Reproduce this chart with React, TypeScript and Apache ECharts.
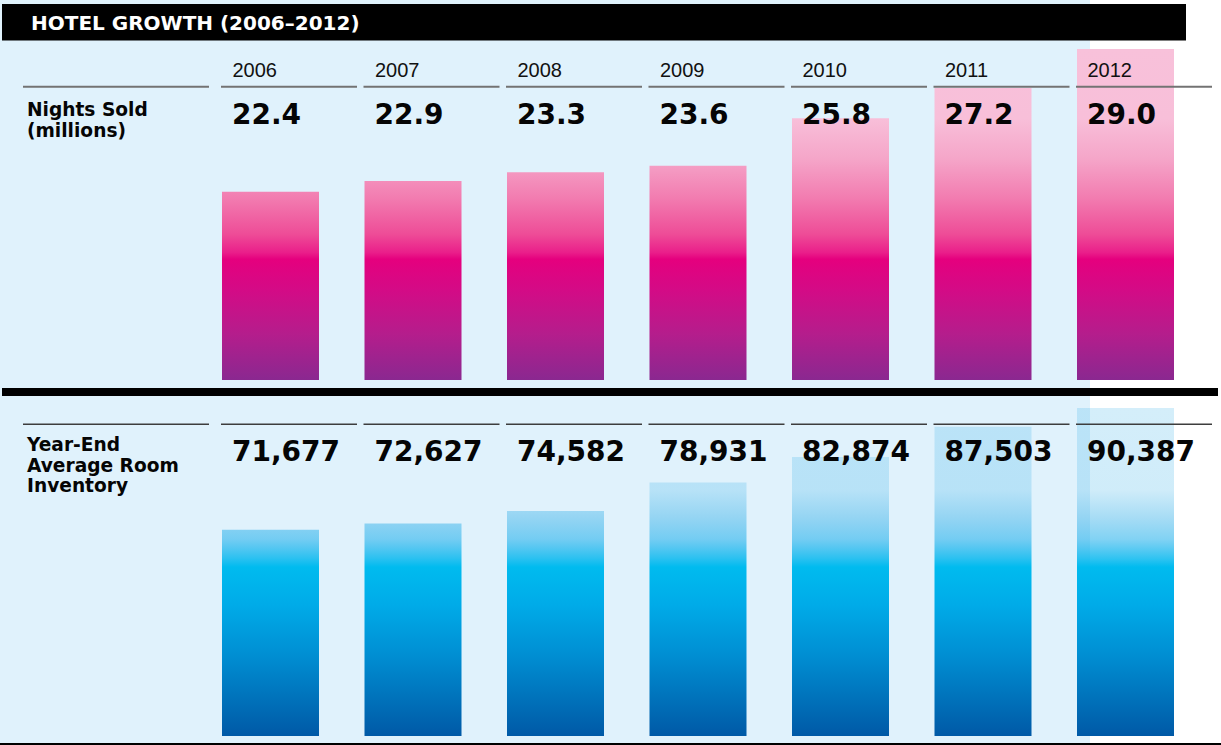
import React, { useEffect, useRef } from 'react';
import * as echarts from 'echarts';

// ---- data ----
const chartTitle = 'HOTEL GROWTH (2006–2012)';
const years = ['2006', '2007', '2008', '2009', '2010', '2011', '2012'];
const nightsSold = [22.4, 22.9, 23.3, 23.6, 25.8, 27.2, 29.0];
const nightsSoldLabels = ['22.4', '22.9', '23.3', '23.6', '25.8', '27.2', '29.0'];
const roomInventory = [71677, 72627, 74582, 78931, 82874, 87503, 90387];
const roomInventoryLabels = ['71,677', '72,627', '74,582', '78,931', '82,874', '87,503', '90,387'];
const nightsRowLabel = ['Nights Sold', '(millions)'];
const inventoryRowLabel = ['Year-End', 'Average Room', 'Inventory'];

// ---- layout ----
const W = 1221;
const H = 745;
const GRID_LEFT = 199.25;
const GRID_WIDTH = 997.5;
const BAR_W = 97;
const NIGHTS_MIN = 13.7;
const NIGHTS_MAX = 30;
const INV_MIN = 40000;
const INV_MAX = 92000;
const BOLD = '"DejaVu Sans", "Liberation Sans", sans-serif';
const REG = '"Liberation Sans", Arial, sans-serif';

const pinkStops = [
  [0, '#f8c1da'],
  [0.21, '#f8bfd9'],
  [0.33, '#f5a6c9'],
  [0.45, '#f27cb0'],
  [0.56, '#ee4c97'],
  [0.615, '#ea1e8a'],
  [0.635, '#e5007e'],
  [0.73, '#d30b86'],
  [0.86, '#b51d8c'],
  [1, '#8a2890'],
];
const blueStops = [
  [0, 'rgba(40,170,230,0.2)'],
  [0.25, 'rgba(40,170,230,0.22)'],
  [0.33, 'rgba(40,170,230,0.4)'],
  [0.4, 'rgba(30,175,235,0.56)'],
  [0.46, 'rgba(0,182,238,0.82)'],
  [0.485, '#00bbef'],
  [0.6, '#00abe8'],
  [0.75, '#008fd3'],
  [0.9, '#006fb8'],
  [1, '#0059a6'],
];

function grad(y0: number, y1: number, stops: any[]) {
  return {
    type: 'linear',
    x: 0,
    y: y0,
    x2: 0,
    y2: y1,
    global: true,
    colorStops: stops.map(([offset, color]) => ({ offset, color })),
  };
}

export default function App() {
  const ref = useRef<HTMLDivElement>(null);

  useEffect(() => {
    if (!ref.current) return;
    const chart = echarts.init(ref.current, null, { renderer: 'svg', width: W, height: H });
    const base: any = {
      animation: false,
      grid: [
        { left: GRID_LEFT, width: GRID_WIDTH, top: 27.4, height: 352.6 },
        { left: GRID_LEFT, width: GRID_WIDTH, top: 397.5, height: 338.5 },
      ],
      xAxis: [
        { type: 'category', gridIndex: 0, data: years, show: false },
        { type: 'category', gridIndex: 1, data: years, show: false },
      ],
      yAxis: [
        { type: 'value', gridIndex: 0, min: NIGHTS_MIN, max: NIGHTS_MAX, show: false, splitLine: { show: false } },
        { type: 'value', gridIndex: 1, min: INV_MIN, max: INV_MAX, show: false, splitLine: { show: false } },
      ],
      series: [
        { type: 'bar', xAxisIndex: 0, yAxisIndex: 0, data: nightsSold, barWidth: BAR_W, z: 2, silent: true },
        { type: 'bar', xAxisIndex: 1, yAxisIndex: 1, data: roomInventory, barWidth: BAR_W, z: 2, silent: true },
      ],
    };
    chart.setOption(base);

    const cx = years.map((y) => chart.convertToPixel({ xAxisIndex: 0 }, y) as number);
    const pinkTop = chart.convertToPixel({ yAxisIndex: 0 }, Math.max(...nightsSold)) as number;
    const pinkBottom = chart.convertToPixel({ yAxisIndex: 0 }, NIGHTS_MIN) as number;
    const blueTop = chart.convertToPixel({ yAxisIndex: 1 }, Math.max(...roomInventory)) as number;
    const blueBottom = chart.convertToPixel({ yAxisIndex: 1 }, INV_MIN) as number;

    const graphic: any[] = [];
    graphic.push({ type: 'rect', z: -5, silent: true, shape: { x: 0, y: 0, width: 1090, height: H }, style: { fill: '#e0f2fc' } });
    graphic.push({ type: 'rect', z: 10, silent: true, shape: { x: 2, y: 4, width: 1184, height: 36.5 }, style: { fill: '#000000' } });
    graphic.push({
      type: 'text', z: 11, silent: true, x: 31, y: 23.3,
      style: { text: chartTitle, fill: '#ffffff', font: `bold 20px ${BOLD}`, textAlign: 'left', textVerticalAlign: 'middle' },
    });
    graphic.push({ type: 'rect', z: 10, silent: true, shape: { x: 2, y: 388, width: 1216, height: 8 }, style: { fill: '#000000' } });
    graphic.push({ type: 'rect', z: 10, silent: true, shape: { x: 0, y: 743, width: W, height: 2 }, style: { fill: '#000000' } });
    graphic.push({ type: 'rect', z: 10, silent: true, shape: { x: 23, y: 85.8, width: 186, height: 2 }, style: { fill: '#737373' } });
    graphic.push({ type: 'rect', z: 10, silent: true, shape: { x: 23, y: 423.4, width: 186, height: 1.7 }, style: { fill: '#3d3d3d' } });
    cx.forEach((c, i) => {
      const left = c - BAR_W / 2;
      graphic.push({ type: 'rect', z: 10, silent: true, shape: { x: left - 1, y: 85.8, width: 136, height: 2 }, style: { fill: '#737373' } });
      graphic.push({ type: 'rect', z: 10, silent: true, shape: { x: left - 1, y: 423.4, width: 136, height: 1.7 }, style: { fill: '#3d3d3d' } });
      graphic.push({
        type: 'text', z: 11, silent: true, x: left + 10.5, y: 69.6,
        style: { text: years[i], fill: '#111111', font: `20px ${REG}`, textAlign: 'left', textVerticalAlign: 'middle' },
      });
      graphic.push({
        type: 'text', z: 11, silent: true, x: left + 10, y: 114.6,
        style: { text: nightsSoldLabels[i], fill: '#050505', font: `bold 28px ${BOLD}`, textAlign: 'left', textVerticalAlign: 'middle' },
      });
      graphic.push({
        type: 'text', z: 11, silent: true, x: left + 10, y: 451.6,
        style: { text: roomInventoryLabels[i], fill: '#050505', font: `bold 28px ${BOLD}`, textAlign: 'left', textVerticalAlign: 'middle' },
      });
    });
    const nightsY = [109.2, 130.4];
    nightsRowLabel.forEach((t, i) => {
      graphic.push({
        type: 'text', z: 11, silent: true, x: 27, y: nightsY[i],
        style: { text: t, fill: '#050505', font: `bold 18.6px ${BOLD}`, textAlign: 'left', textVerticalAlign: 'middle' },
      });
    });
    const invY = [444.2, 465, 485.8];
    inventoryRowLabel.forEach((t, i) => {
      graphic.push({
        type: 'text', z: 11, silent: true, x: 27, y: invY[i],
        style: { text: t, fill: '#050505', font: `bold 18.6px ${BOLD}`, textAlign: 'left', textVerticalAlign: 'middle' },
      });
    });

    chart.setOption({
      graphic,
      series: [
        { itemStyle: { color: grad(pinkTop, pinkBottom, pinkStops) } },
        { itemStyle: { color: grad(blueTop, blueBottom, blueStops) } },
      ],
    });

    return () => chart.dispose();
  }, []);

  return (
    <div style={{ position: 'fixed', left: 0, top: 0, width: W, height: H, background: '#ffffff' }}>
      <div ref={ref} style={{ width: W, height: H }} />
    </div>
  );
}
